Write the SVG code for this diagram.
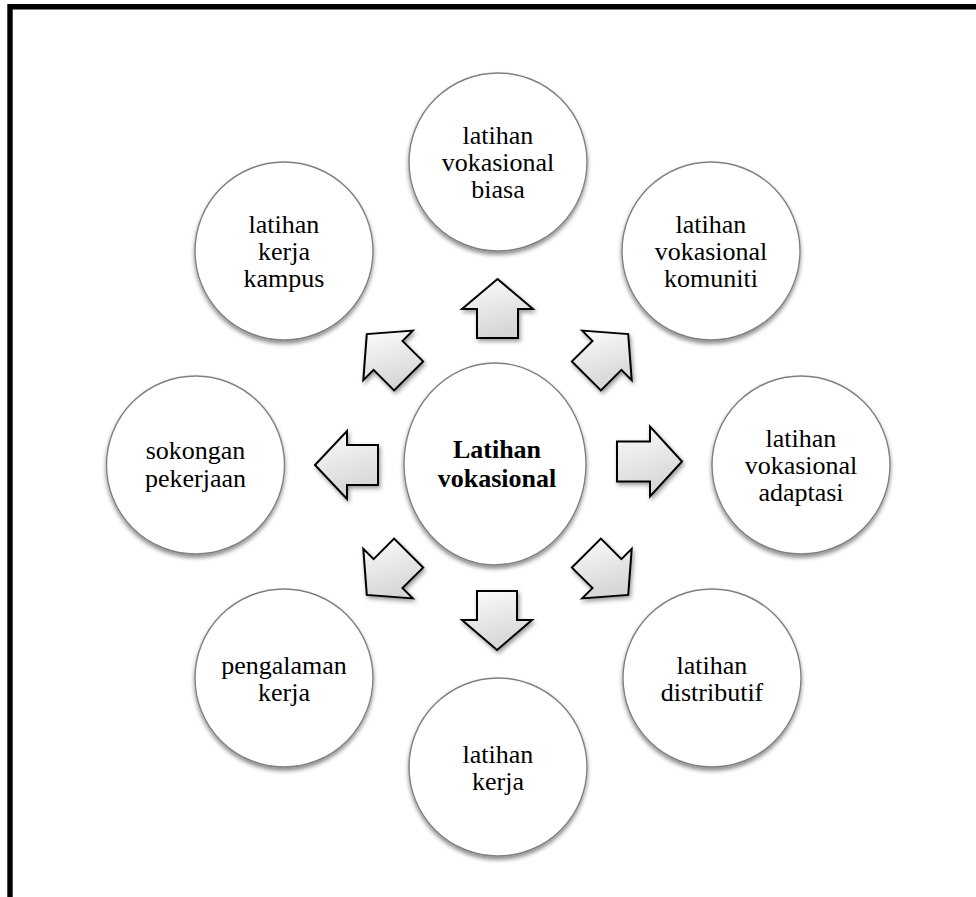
<svg xmlns="http://www.w3.org/2000/svg" width="976" height="897" viewBox="0 0 976 897">
  <defs>
    <linearGradient id="arrowFill" x1="0" y1="0" x2="0.3" y2="1">
      <stop offset="0" stop-color="#fcfcfc"/>
      <stop offset="1" stop-color="#d6d6d6"/>
    </linearGradient>
    <filter id="circleShadow" x="-20%" y="-20%" width="140%" height="145%">
      <feDropShadow dx="0" dy="3" stdDeviation="2.2" flood-color="#000" flood-opacity="0.45"/>
    </filter>
    <filter id="arrowShadow" x="-30%" y="-30%" width="160%" height="160%">
      <feDropShadow dx="1.5" dy="2.5" stdDeviation="2" flood-color="#000" flood-opacity="0.4"/>
    </filter>
  </defs>
  <style>
    .frame { fill: none; stroke: #000; stroke-width: 5.4; stroke-linejoin: miter; }
    .node { fill: #fff; stroke: #808080; stroke-width: 1.4; filter: url(#circleShadow); }
    .arrow { fill: url(#arrowFill); stroke: #000; stroke-width: 2; stroke-linejoin: miter; filter: url(#arrowShadow); }
    .label { font-family: "Liberation Serif", "Times New Roman", serif; font-size: 26px; fill: #000; text-anchor: middle; }
    .bold { font-weight: bold; }
  </style>

  <rect width="976" height="897" fill="#fff"/>
  <path class="frame" d="M10,900 L10,6.8 L980,6.8"/>

  <g id="connectors">
    <path class="arrow" d="M497.5,279 L533,309 L518,309 L518,338 L477,338 L477,309 L462,309 Z"/>
    <path class="arrow" d="M628.2,334.1 L631.7,380.1 L621.4,369.8 L600.9,390.4 L571.9,361.4 L592.5,340.9 L582.2,330.6 Z"/>
    <path class="arrow" d="M682,461.5 L650,426.5 L650,441.5 L617,441.5 L617,481.5 L650,481.5 L650,496.5 Z"/>
    <path class="arrow" d="M628.2,594.9 L631.7,548.9 L621.4,559.2 L600.9,538.6 L571.9,567.6 L592.5,588.1 L582.2,598.4 Z"/>
    <path class="arrow" d="M497,650 L532,620 L517,620 L517,591 L477,591 L477,620 L462,620 Z"/>
    <path class="arrow" d="M366.8,594.9 L363.3,548.9 L373.6,559.2 L394.1,538.6 L423.1,567.6 L402.5,588.1 L412.8,598.4 Z"/>
    <path class="arrow" d="M315,465 L347,431 L347,445 L378,445 L378,485 L347,485 L347,499 Z"/>
    <path class="arrow" d="M366.8,334.1 L363.3,380.1 L373.6,369.8 L394.1,390.4 L423.1,361.4 L402.5,340.9 L412.8,330.6 Z"/>
  </g>

  <g id="node-center">
    <ellipse class="node" cx="495" cy="464" rx="91" ry="101"/>
    <text class="label bold" x="497" y="458">Latihan</text>
    <text class="label bold" x="497" y="487">vokasional</text>
  </g>

  <g id="node-biasa">
    <circle class="node" cx="498" cy="162" r="89"/>
    <text class="label" x="498" y="144">latihan</text>
    <text class="label" x="498" y="171">vokasional</text>
    <text class="label" x="498" y="198">biasa</text>
  </g>

  <g id="node-komuniti">
    <circle class="node" cx="711" cy="251" r="89"/>
    <text class="label" x="711" y="233">latihan</text>
    <text class="label" x="711" y="260">vokasional</text>
    <text class="label" x="711" y="287">komuniti</text>
  </g>

  <g id="node-adaptasi">
    <circle class="node" cx="801" cy="465" r="89"/>
    <text class="label" x="801" y="447">latihan</text>
    <text class="label" x="801" y="474">vokasional</text>
    <text class="label" x="801" y="501">adaptasi</text>
  </g>

  <g id="node-distributif">
    <circle class="node" cx="712" cy="678" r="89"/>
    <text class="label" x="712" y="674">latihan</text>
    <text class="label" x="712" y="701">distributif</text>
  </g>

  <g id="node-kerja">
    <circle class="node" cx="498" cy="767" r="89"/>
    <text class="label" x="498" y="763">latihan</text>
    <text class="label" x="498" y="790">kerja</text>
  </g>

  <g id="node-pengalaman">
    <circle class="node" cx="284" cy="678" r="89"/>
    <text class="label" x="284" y="674">pengalaman</text>
    <text class="label" x="284" y="701">kerja</text>
  </g>

  <g id="node-sokongan">
    <circle class="node" cx="195.5" cy="465" r="89"/>
    <text class="label" x="195.5" y="459">sokongan</text>
    <text class="label" x="195.5" y="487">pekerjaan</text>
  </g>

  <g id="node-kampus">
    <circle class="node" cx="284" cy="251" r="89"/>
    <text class="label" x="284" y="233">latihan</text>
    <text class="label" x="284" y="260">kerja</text>
    <text class="label" x="284" y="287">kampus</text>
  </g>
</svg>
